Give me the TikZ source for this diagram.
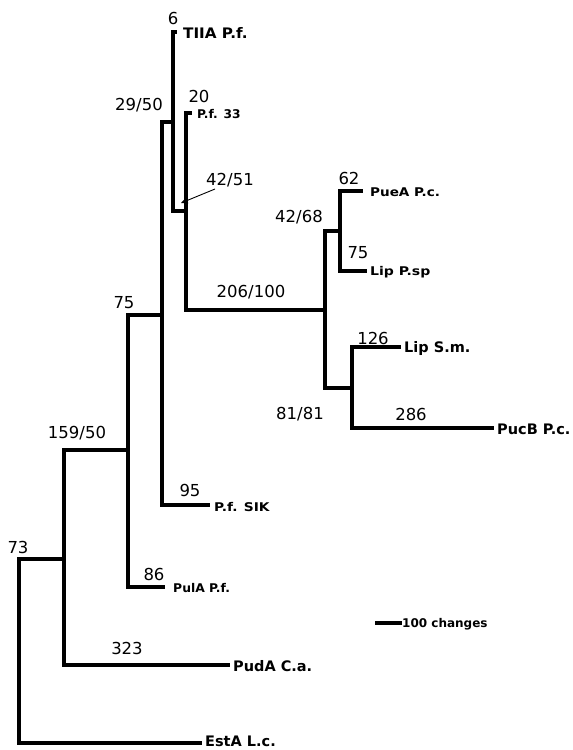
\documentclass[tikz,border=0pt]{standalone}
\usepackage{fontspec}
\usepackage{graphicx}
\setmainfont{DejaVu Sans}
\usetikzlibrary{arrows.meta}
\begin{document}
\begin{tikzpicture}[x=1pt,y=-1pt,
  branch/.style={line width=3.4pt,line join=miter,line cap=butt},
  num/.style={inner sep=0pt,font=\fontsize{16.5}{18}\selectfont},
  bigtax/.style={anchor=west,inner sep=0pt,font=\bfseries\fontsize{14.5}{16}\selectfont},
  smalltax/.style={anchor=west,inner sep=0pt,font=\bfseries\fontsize{12}{14}\selectfont},
  pointer/.style={line width=0.9pt,-{Stealth[length=7pt,width=6pt]}}]
\useasboundingbox (0,0) rectangle (573,750);
% internal nodes
\coordinate (R) at (19,650);
\coordinate (A) at (64,559);
\coordinate (B) at (128,450);
\coordinate (C) at (162,315);
\coordinate (D) at (173,122);
\coordinate (E) at (186,211);
\coordinate (F) at (325,310);
\coordinate (G) at (340,231);
\coordinate (H) at (352,388);
% leaf ends
\coordinate (tTIIA) at (177,32);
\coordinate (tPf33) at (192,113);
\coordinate (tPueA) at (363,191);
\coordinate (tLipPsp) at (367,271);
\coordinate (tLipSm) at (401,347);
\coordinate (tPucB) at (494,428);
\coordinate (tSIK) at (210,505);
\coordinate (tPulA) at (165,587);
\coordinate (tPudA) at (230,665);
\coordinate (tEstA) at (202,743);
% branches
\draw[branch] (R) |- (A);
\draw[branch] (R) |- (tEstA);
\draw[branch] (A) |- (B);
\draw[branch] (A) |- (tPudA);
\draw[branch] (B) |- (C);
\draw[branch] (B) |- (tPulA);
\draw[branch] (C) |- (D);
\draw[branch] (C) |- (tSIK);
\draw[branch] (D) |- (tTIIA);
\draw[branch] (D) |- (E);
\draw[branch] (E) |- (tPf33);
\draw[branch] (E) |- (F);
\draw[branch] (F) |- (G);
\draw[branch] (F) |- (H);
\draw[branch] (G) |- (tPueA);
\draw[branch] (G) |- (tLipPsp);
\draw[branch] (H) |- (tLipSm);
\draw[branch] (H) |- (tPucB);
% leaf labels
\node[bigtax] (lTIIA) at (183,33) {\scalebox{1.05}[1]{TIIA P.f.}};
\node[smalltax] (lPf33) at (197,114) {\scalebox{1.02}[1]{P.f. 33}};
\node[smalltax] (lPueA) at (370,192) {\scalebox{1.13}[1]{PueA P.c.}};
\node[smalltax] (lLipPsp) at (370,272) {\scalebox{1.17}[1]{Lip P.sp}};
\node[bigtax] (lLipSm) at (404,348) {Lip S.m.};
\node[bigtax] (lPucB) at (497,429) {PucB P.c.};
\node[smalltax] (lSIK) at (214,507) {\scalebox{1.15}[1]{P.f. SIK}};
\node[smalltax] (lPulA) at (173,588) {\scalebox{1.03}[1]{PulA P.f.}};
\node[bigtax] (lPudA) at (233,666) {PudA C.a.};
\node[bigtax] (lEstA) at (205,741) {EstA L.c.};
% branch numbers
\node[num] (n6) at (173,18) {6};
\node[num] (n2950) at (139,105) {29/50};
\node[num] (n20) at (199,96) {20};
\node[num] (n4251) at (230,180) {42/51};
\node[num] (n62) at (349,178) {62};
\node[num] (n4268) at (299,217) {42/68};
\node[num] (n75a) at (358,253) {75};
\node[num] (n206) at (251,292) {206/100};
\node[num] (n75b) at (124,303) {75};
\node[num] (n126) at (373,338) {126};
\node[num] (n286) at (411,414) {286};
\node[num] (n8181) at (300,414) {81/81};
\node[num] (n15950) at (77,433) {159/50};
\node[num] (n95) at (190,490) {95};
\node[num] (n73) at (18,547) {73};
\node[num] (n86) at (154,574) {86};
\node[num] (n323) at (127,648) {323};
% pointer
\coordinate (pstart) at (215,189);
\coordinate (ptarget) at (181,203);
\draw[pointer] (pstart) -- (ptarget);
% scale bar
\coordinate (s1) at (375,623);
\coordinate (s2) at (402,623);
\draw[branch] (s1) -- (s2);
\node[anchor=west,inner sep=0pt,font=\bfseries\fontsize{12}{14}\selectfont] (scale) at (402,624) {100 changes};
\end{tikzpicture}
\end{document}
